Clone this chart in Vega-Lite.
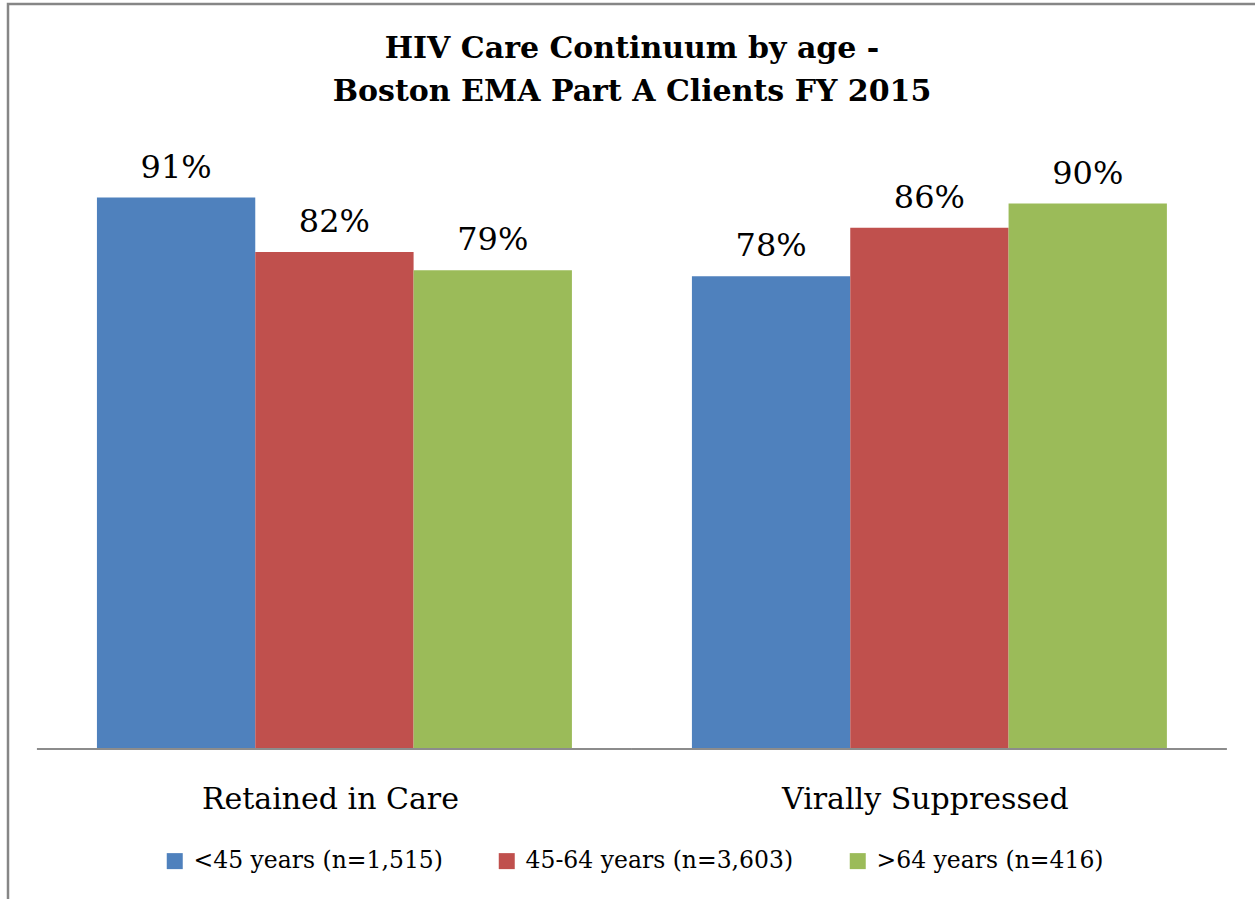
{
  "$schema": "https://vega.github.io/schema/vega-lite/v6.json",
  "width": 1260,
  "height": 900,
  "autosize": {"type": "none"},
  "padding": {"left": 8, "top": 4, "right": 0, "bottom": 0},
  "background": "white",
  "config": {
    "view": {"stroke": "#868686", "strokeWidth": 2.5},
    "font": "DejaVu Serif"
  },
  "title": {
    "text": ["HIV Care Continuum by age -", "Boston EMA Part A Clients FY 2015"],
    "font": "DejaVu Serif",
    "fontWeight": "bold",
    "fontSize": 30,
    "lineHeight": 43,
    "anchor": "middle",
    "frame": "group",
    "dx": -6,
    "offset": -103,
    "color": "black"
  },
  "datasets": {
    "continuum": [
      {"measure": "Retained in Care", "age": "<45 years (n=1,515)", "rate": 0.91},
      {"measure": "Retained in Care", "age": "45-64 years (n=3,603)", "rate": 0.82},
      {"measure": "Retained in Care", "age": ">64 years (n=416)", "rate": 0.79},
      {"measure": "Virally Suppressed", "age": "<45 years (n=1,515)", "rate": 0.78},
      {"measure": "Virally Suppressed", "age": "45-64 years (n=3,603)", "rate": 0.86},
      {"measure": "Virally Suppressed", "age": ">64 years (n=416)", "rate": 0.90}
    ],
    "measures": [
      {"measure": "Retained in Care"},
      {"measure": "Virally Suppressed"}
    ]
  },
  "layer": [
    {
      "data": {"name": "continuum"},
      "mark": {"type": "bar"},
      "encoding": {
        "x": {
          "field": "measure",
          "type": "nominal",
          "sort": ["Retained in Care", "Virally Suppressed"],
          "scale": {"paddingInner": 0.2017, "paddingOuter": 0.1597, "align": 0.468},
          "axis": {
            "title": null,
            "orient": "bottom",
            "offset": -155,
            "domain": false,
            "ticks": false,
            "tickSize": 0,
            "labelAngle": 0,
            "labelFont": "DejaVu Serif",
            "labelFontSize": 30,
            "labelColor": "black",
            "labelBaseline": "alphabetic",
            "labelPadding": 59,
            "labelOffset": -4,
            "labelLimit": 0
          }
        },
        "xOffset": {
          "field": "age",
          "type": "nominal",
          "sort": ["<45 years (n=1,515)", "45-64 years (n=3,603)", ">64 years (n=416)"],
          "scale": {"paddingInner": 0, "paddingOuter": 0}
        },
        "y": {
          "field": "rate",
          "type": "quantitative",
          "scale": {"domain": [-0.2558, 1.2294], "nice": false, "zero": false},
          "axis": null
        },
        "color": {
          "field": "age",
          "type": "nominal",
          "sort": ["<45 years (n=1,515)", "45-64 years (n=3,603)", ">64 years (n=416)"],
          "scale": {
            "domain": ["<45 years (n=1,515)", "45-64 years (n=3,603)", ">64 years (n=416)"],
            "range": ["#4F81BD", "#C0504D", "#9BBB59"]
          },
          "legend": {
            "title": null,
            "orient": "none",
            "legendX": 155,
            "legendY": 845,
            "direction": "horizontal",
            "symbolType": "square",
            "symbolSize": 256,
            "symbolStrokeWidth": 0,
            "symbolOpacity": 1,
            "labelFont": "DejaVu Serif",
            "labelFontSize": 23.5,
            "labelColor": "black",
            "labelOffset": 7,
            "columnPadding": 52,
            "labelLimit": 0,
            "padding": 0
          }
        }
      }
    },
    {
      "data": {"name": "continuum"},
      "mark": {"type": "text", "baseline": "alphabetic", "dy": -20, "fontSize": 32, "font": "DejaVu Serif", "color": "black"},
      "encoding": {
        "x": {"field": "measure", "type": "nominal", "sort": ["Retained in Care", "Virally Suppressed"]},
        "xOffset": {"field": "age", "type": "nominal", "sort": ["<45 years (n=1,515)", "45-64 years (n=3,603)", ">64 years (n=416)"]},
        "y": {"field": "rate", "type": "quantitative"},
        "text": {"field": "rate", "type": "quantitative", "format": ".0%"}
      }
    },
    {
      "data": {"name": "measures"},
      "mark": {"type": "tick", "orient": "horizontal", "size": 595, "thickness": 2, "color": "#8C8C8C", "opacity": 1},
      "encoding": {
        "x": {"field": "measure", "type": "nominal", "sort": ["Retained in Care", "Virally Suppressed"]},
        "y": {"datum": 0, "type": "quantitative"}
      }
    }
  ]
}
